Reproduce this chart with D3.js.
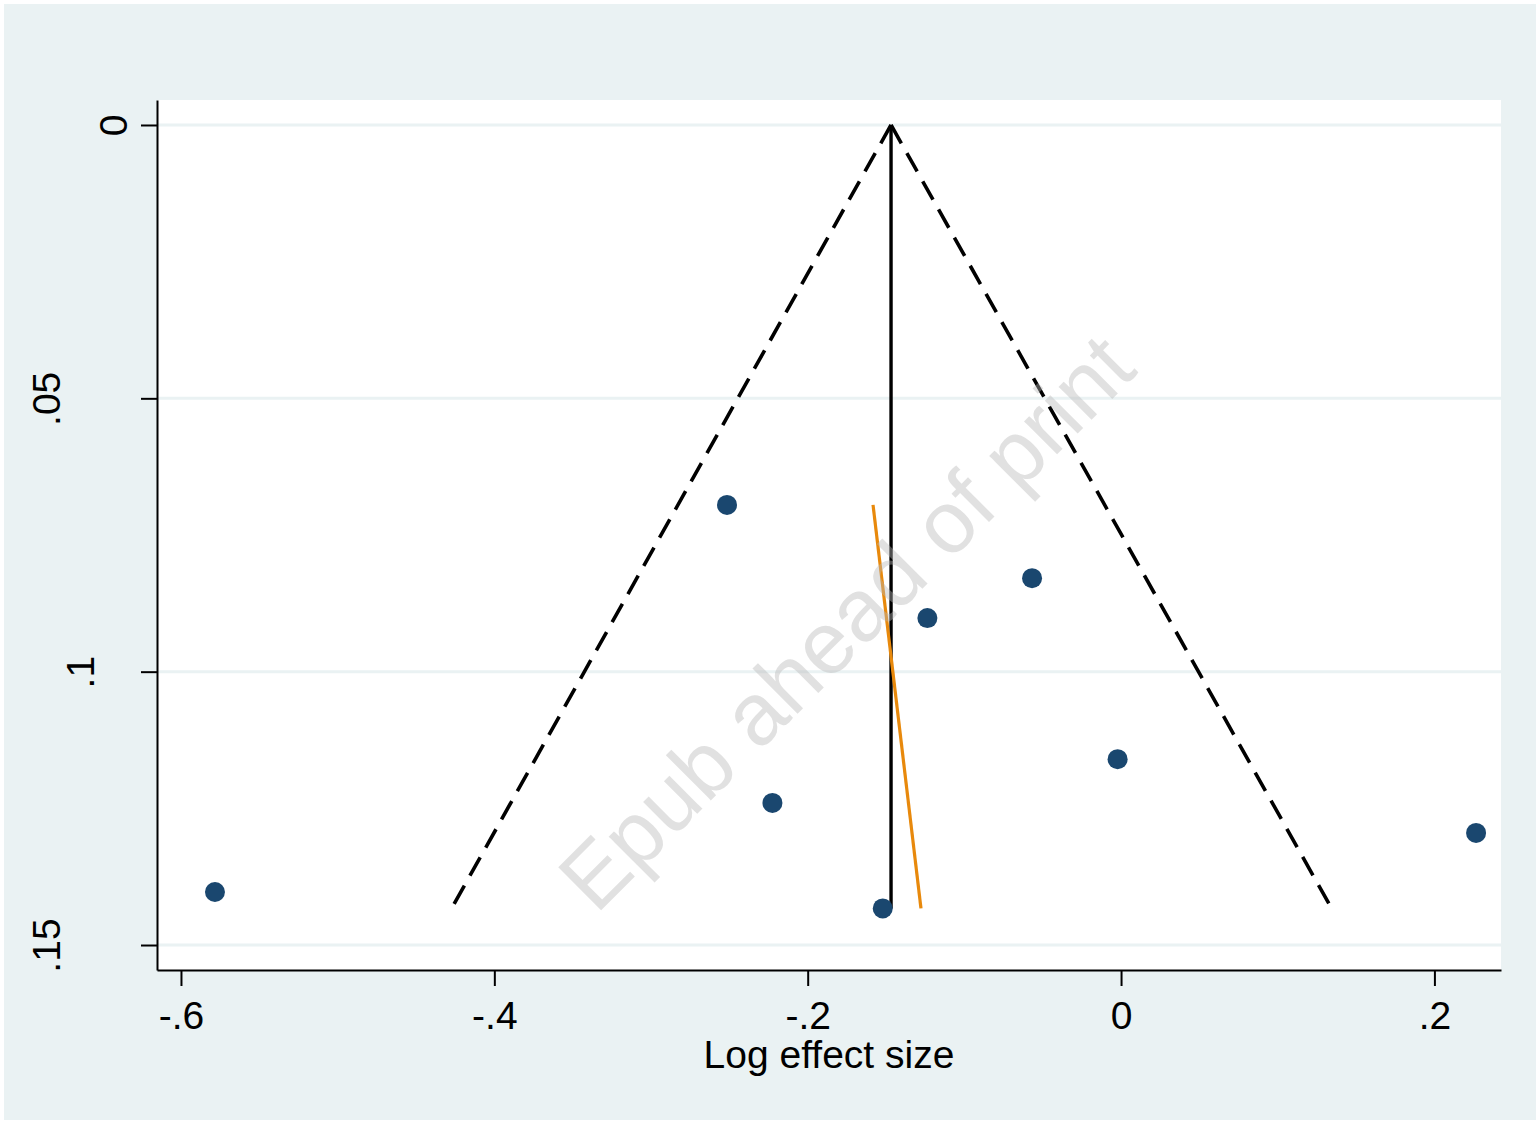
<!DOCTYPE html>
<html>
<head>
<meta charset="utf-8">
<script src="https://cdn.jsdelivr.net/npm/d3@7"></script>
<style>
  html, body { margin: 0; padding: 0; background: #ffffff; }
  svg { display: block; }
  text { font-family: "Liberation Sans", Arial, sans-serif; }
</style>
</head>
<body>
<svg id="chart" width="1540" height="1122"></svg>
<script>
// ---- data ----
const effectX = [-0.2515, -0.0568, -0.1236, -0.0022, -0.2225, 0.2266, -0.5783, -0.1521];
const seY     = [0.0695, 0.0829, 0.0902, 0.1160, 0.1240, 0.1295, 0.1403, 0.1433];
const pooled = -0.1468;
const pooledLineSe = [0, 0.1433];
const funnelLeft  = [[-0.1468, 0], [-0.4257, 0.1425]];
const funnelRight = [[-0.1468, 0], [0.1328, 0.1425]];
const eggerLine = [[-0.1583, 0.0695], [-0.1277, 0.1433]];
const xTicks = [-0.6, -0.4, -0.2, 0, 0.2];
const xTickLabels = ["-.6", "-.4", "-.2", "0", ".2"];
const yTicks = [0, 0.05, 0.1, 0.15];
const yTickLabels = ["0", ".05", ".1", ".15"];
const xTitle = "Log effect size";
const watermark = "Epub ahead of print";

// ---- layout ----
const svg = d3.select("#chart");
const plot = {left: 157, right: 1501, top: 100, bottom: 970};

svg.append("rect").attr("x", 4).attr("y", 4).attr("width", 1532).attr("height", 1116)
  .attr("fill", "#eaf2f3");
svg.append("rect").attr("x", plot.left).attr("y", plot.top)
  .attr("width", plot.right - plot.left).attr("height", plot.bottom - plot.top)
  .attr("fill", "#ffffff");

const x = d3.scaleLinear().domain([-0.6153, 0.2425]).range([plot.left, plot.right]);
const y = d3.scaleLinear().domain([-0.00457, 0.15457]).range([plot.top, plot.bottom]);

// gridlines
svg.append("g").selectAll("line").data(yTicks).join("line")
  .attr("x1", plot.left).attr("x2", plot.right)
  .attr("y1", d => y(d)).attr("y2", d => y(d))
  .attr("stroke", "#eaf2f3").attr("stroke-width", 3);

// axes
const xAxis = d3.axisBottom(x).tickValues(xTicks)
  .tickFormat((d, i) => xTickLabels[i]).tickSize(16).tickSizeOuter(0).tickPadding(15);
const gx = svg.append("g").attr("transform", `translate(0,${plot.bottom})`).call(xAxis);
gx.select(".domain").attr("stroke", "#000").attr("stroke-width", 2);
gx.selectAll(".tick line").attr("stroke", "#000").attr("stroke-width", 2);
gx.selectAll(".tick text").attr("font-size", 39).attr("fill", "#000")
  .attr("font-family", "Liberation Sans, Arial, sans-serif");

const yAxis = d3.axisLeft(y).tickValues(yTicks)
  .tickFormat((d, i) => yTickLabels[i]).tickSize(16).tickSizeOuter(0);
const gy = svg.append("g").attr("transform", `translate(${plot.left},0)`).call(yAxis);
gy.select(".domain").attr("stroke", "#000").attr("stroke-width", 2);
gy.selectAll(".tick line").attr("stroke", "#000").attr("stroke-width", 2);
// Stata-style placement: baseline offset depends on label character count
gy.selectAll(".tick text")
  .attr("font-size", 39).attr("fill", "#000")
  .attr("font-family", "Liberation Sans, Arial, sans-serif")
  .attr("x", null).attr("dy", null)
  .attr("text-anchor", "middle")
  .attr("transform", (d, i) => `translate(${3.5 - 33.5 * yTickLabels[i].length},0) rotate(-90)`);

// x title
svg.append("text").attr("x", (plot.left + plot.right) / 2).attr("y", 1068)
  .attr("text-anchor", "middle").attr("font-size", 39).attr("fill", "#000").text(xTitle);

// funnel lines
const line = d3.line().x(d => x(d[0])).y(d => y(d[1]));
[funnelLeft, funnelRight].forEach(f => {
  svg.append("path").attr("d", line(f)).attr("fill", "none")
    .attr("stroke", "#000").attr("stroke-width", 3.6).attr("stroke-dasharray", "21,11.3");
});
// pooled vertical
svg.append("path").attr("d", line(pooledLineSe.map(s => [pooled, s])))
  .attr("fill", "none").attr("stroke", "#000").attr("stroke-width", 3.4);
// egger line
svg.append("path").attr("d", line(eggerLine)).attr("fill", "none")
  .attr("stroke", "#e8890c").attr("stroke-width", 3.2);

// points
svg.append("g").selectAll("circle").data(effectX).join("circle")
  .attr("cx", d => x(d)).attr("cy", (d, i) => y(seY[i])).attr("r", 10)
  .attr("fill", "#1a476f");

// watermark
svg.append("text").attr("transform", "translate(846,622) rotate(-45)")
  .attr("text-anchor", "middle").attr("dominant-baseline", "central")
  .attr("font-family", "Open Sans, DejaVu Sans, sans-serif")
  .attr("font-size", 88).attr("fill", "#b8b8b8").attr("fill-opacity", 0.42)
  .text(watermark);
</script>
</body>
</html>
